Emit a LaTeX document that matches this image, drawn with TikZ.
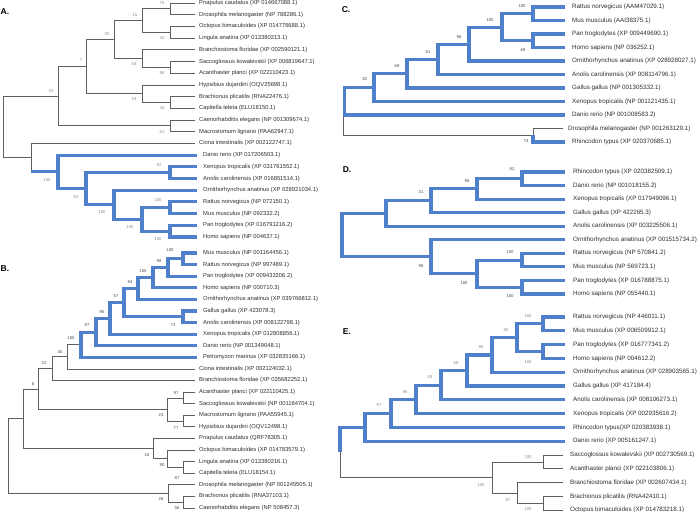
\documentclass[tikz,border=0pt]{standalone}
\usepackage{fontspec}
\setmainfont{Liberation Sans}
\definecolor{blueline}{RGB}{78,128,203}
\definecolor{greyline}{RGB}{95,95,95}
\definecolor{txt}{RGB}{45,45,45}
\definecolor{lblA}{RGB}{135,135,135}
\definecolor{lblD}{RGB}{70,70,70}
\newcommand{\edg}[3]{\draw[#1] (#2) |- (#3);}
\begin{document}
\begin{tikzpicture}[x=1pt,y=-1pt,
  gl/.style={draw=greyline,line width=0.75pt},
  bl/.style={draw=blueline,line width=3.1pt},
  tA/.style={anchor=west,inner sep=0pt,text=txt,font=\fontsize{5.8}{6}\selectfont},
  tC/.style={anchor=west,inner sep=0pt,text=txt,font=\fontsize{6.25}{7}\selectfont},
  bsA/.style={inner sep=0pt,text=lblA,font=\fontsize{4.2}{5}\selectfont},
  bsD/.style={inner sep=0pt,text=lblD,font=\fontsize{4.2}{5}\selectfont},
  pl/.style={inner sep=0pt,font=\fontsize{8.5}{9}\selectfont\bfseries}]
\useasboundingbox (0,0) rectangle (700,514);

% panel letters
\node[pl] (LA) at (5,12) {A.};
\node[pl] (LB) at (5,269) {B.};
\node[pl] (LC) at (346,10) {C.};
\node[pl] (LD) at (347,170) {D.};
\node[pl] (LE) at (347,332) {E.};

% ================= A =================
\foreach \i/\lx/\tx/\t in {
1/195/199/{Priapulus caudatus (XP 014667088.1)},
2/195/199/{Drosophila melanogaster (NP 788286.1)},
3/195/199/{Octopus bimaculoides (XP 014776688.1)},
4/195/199/{Lingula anatina (XP 013380213.1)},
5/195/199/{Branchiostoma floridae (XP 002590121.1)},
6/195/199/{Saccoglossus kowalevskii (XP 006819647.1)},
7/195/199/{Acanthaster planci (XP 022110423.1)},
8/195/199/{Hypsibius dujardini (OQV25698.1)},
9/195/199/{Brachionus plicatilis (RNA22476.1)},
10/195/199/{Capitella teleta (ELU18150.1)},
11/195/199/{Caenorhabditis elegans (NP 001309674.1)},
12/195/199/{Macrostomum lignano (PAA62947.1)},
13/195/199/{Ciona intestinalis (XP 002122747.1)},
14/197/203/{Danio rerio (XP 017206503.1)},
15/197/203/{Xenopus tropicalis (XP 031761552.1)},
16/197/203/{Anolis carolinensis (XP 016851514.1)},
17/197/203/{Ornithorhynchus anatinus (XP 028921034.1)},
18/197/203/{Rattus norvegicus (NP 072150.1)},
19/197/203/{Mus musculus (NP 092332.2)},
20/197/203/{Pan troglodytes (XP 016791216.2)},
21/197/203/{Homo sapiens (NP 004637.1)}}{
  \pgfmathsetmacro\yy{3+11.7*(\i-1)}
  \coordinate (A\i) at (\lx,\yy);
  \node[tA] (tA\i) at (\tx,\yy) {\t};
}
\coordinate (na75) at (170,8.85);
\coordinate (na43) at (170,32.25);
\coordinate (na15) at (142,20.55);
\coordinate (na88) at (170,67.35);
\coordinate (na84) at (142,58.58);
\coordinate (na20) at (114,39.56);
\coordinate (na44) at (170,102.45);
\coordinate (na19) at (142,93.68);
\coordinate (na7) at (86,66.62);
\coordinate (na81) at (170,125.85);
\coordinate (na33) at (58,96.23);
\coordinate (na92) at (170,172.65);
\coordinate (naRM) at (170,207.75);
\coordinate (naPH) at (170,231.15);
\coordinate (na105) at (142,219.45);
\coordinate (na100) at (114,204.83);
\coordinate (na62) at (86,188.74);
\coordinate (naV) at (58,171.92);
\coordinate (naLow) at (31,157.66);
\coordinate (naRoot) at (3,126.94);

\edg{gl}{naRoot}{na33} \edg{gl}{naRoot}{naLow}
\edg{gl}{na33}{na7} \edg{gl}{na33}{na81}
\edg{gl}{na7}{na20} \edg{gl}{na7}{na19}
\edg{gl}{na20}{na15} \edg{gl}{na20}{na84}
\edg{gl}{na15}{na75} \edg{gl}{na15}{na43}
\edg{gl}{na75}{A1} \edg{gl}{na75}{A2}
\edg{gl}{na43}{A3} \edg{gl}{na43}{A4}
\edg{gl}{na84}{A5} \edg{gl}{na84}{na88}
\edg{gl}{na88}{A6} \edg{gl}{na88}{A7}
\edg{gl}{na19}{A8} \edg{gl}{na19}{na44}
\edg{gl}{na44}{A9} \edg{gl}{na44}{A10}
\edg{gl}{na81}{A11} \edg{gl}{na81}{A12}
\edg{gl}{naLow}{A13}
\draw[gl] (naLow) -- (naLow |- naV);
\draw[bl] (naLow |- naV) -- (naV);
\edg{bl}{naV}{A14} \edg{bl}{naV}{na62}
\edg{bl}{na62}{na92} \edg{bl}{na62}{na100}
\edg{bl}{na92}{A15} \edg{bl}{na92}{A16}
\edg{bl}{na100}{A17} \edg{bl}{na100}{na105}
\edg{bl}{na105}{naRM} \edg{bl}{na105}{naPH}
\edg{bl}{naRM}{A18} \edg{bl}{naRM}{A19}
\edg{bl}{naPH}{A20} \edg{bl}{naPH}{A21}

\node[bsA] (sa75) at (162,3) {75};
\node[bsA] (sa15) at (135,15) {15};
\node[bsA] (sa43) at (162,38) {43};
\node[bsA] (sa20) at (107,34) {20};
\node[bsA] (sa84) at (134,64) {84};
\node[bsA] (sa88) at (162,73) {88};
\node[bsA] (sa7) at (81,60) {7};
\node[bsA] (sa19) at (134,99) {19};
\node[bsA] (sa44) at (162,108) {44};
\node[bsA] (sa33) at (51,91) {33};
\node[bsA] (sa81) at (162,132) {81};
\node[bsA] (saV) at (47,180) {100};
\node[bsA] (sa92) at (159,165) {92};
\node[bsA] (sa62) at (76,197) {62};
\node[bsA] (sa100) at (102,212) {100};
\node[bsA] (saRM) at (158,200) {100};
\node[bsA] (sa105) at (130,227) {100};
\node[bsA] (saPH) at (158,239) {100};

% ================= B =================
\foreach \i/\lx/\tx/\t in {
1/197/203/{Mus musculus (NP 001164456.1)},
2/197/203/{Rattus norvegicus (NP 997489.1)},
3/197/203/{Pan troglodytes (XP 009433206.2)},
4/197/203/{Homo sapiens (NP 000710.3)},
5/197/203/{Ornithorhynchus anatinus (XP 039766812.1)},
6/197/203/{Gallus gallus (XP 423078.3)},
7/197/203/{Anolis carolinensis (XP 008122798.1)},
8/197/203/{Xenopus tropicalis (XP 012808856.1)},
9/197/203/{Danio rerio (NP 001349048.1)},
10/197/203/{Petromyzon marinus (XP 032835166.1)},
11/195/199/{Ciona intestinalis (XP 002124032.1)},
12/195/199/{Branchiostoma floridae (XP 035682252.1)},
13/195/199/{Acanthaster planci (XP 022110425.1)},
14/195/199/{Saccoglossus kowalevskii (NP 001164704.1)},
15/195/199/{Macrostomum lignano (PAA55945.1)},
16/195/199/{Hypsibius dujardini (OQV12498.1)},
17/195/199/{Priapulus caudatus (QRF78305.1)},
18/195/199/{Octopus bimaculoides (XP 014783579.1)},
19/195/199/{Lingula anatina (XP 013380216.1)},
20/195/199/{Capitella teleta (ELU18154.1)},
21/195/199/{Drosophila melanogaster (NP 001245505.1)},
22/195/199/{Brachionus plicatilis (RNA37103.1)},
23/195/199/{Caenorhabditis elegans (NP 508457.3)}}{
  \pgfmathsetmacro\yy{253+11.59*(\i-1)}
  \coordinate (B\i) at (\lx,\yy);
  \node[tA] (tB\i) at (\tx,\yy) {\t};
}
\coordinate (nbMR) at (183,258.8);
\coordinate (nb98) at (168,267.49);
\coordinate (nb100) at (153,277.63);
\coordinate (nb94) at (138,288.5);
\coordinate (nb73) at (183,316.75);
\coordinate (nb57) at (124,302.62);
\coordinate (nb95) at (110,318.38);
\coordinate (nb97) at (96,332.05);
\coordinate (nbV) at (81,344.68);
\coordinate (nb45) at (67,356.79);
\coordinate (nb31) at (52,368.64);
\coordinate (nbAS) at (183,397.88);
\coordinate (nbMH) at (183,421.06);
\coordinate (nb24) at (167,409.47);
\coordinate (nb6) at (38,389.06);
\coordinate (nbLC) at (183,467.42);
\coordinate (nb90) at (167,458.73);
\coordinate (nb16) at (153,448.59);
\coordinate (nbN) at (23,418.83);
\coordinate (nbBC) at (183,502.19);
\coordinate (nb26) at (168,493.5);
\coordinate (nbRoot) at (8,456.2);

\edg{gl}{nbRoot}{nbN} \edg{gl}{nbRoot}{nb26}
\edg{gl}{nbN}{nb6} \edg{gl}{nbN}{nb16}
\edg{gl}{nb6}{nb31} \edg{gl}{nb6}{nb24}
\edg{gl}{nb31}{nb45} \edg{gl}{nb31}{B12}
\edg{gl}{nb45}{nbV} \edg{gl}{nb45}{B11}
\edg{bl}{nbV}{nb97} \edg{bl}{nbV}{B10}
\edg{bl}{nb97}{nb95} \edg{bl}{nb97}{B9}
\edg{bl}{nb95}{nb57} \edg{bl}{nb95}{B8}
\edg{bl}{nb57}{nb94} \edg{bl}{nb57}{nb73}
\edg{bl}{nb94}{nb100} \edg{bl}{nb94}{B5}
\edg{bl}{nb100}{nb98} \edg{bl}{nb100}{B4}
\edg{bl}{nb98}{nbMR} \edg{bl}{nb98}{B3}
\edg{bl}{nbMR}{B1} \edg{bl}{nbMR}{B2}
\edg{bl}{nb73}{B6} \edg{bl}{nb73}{B7}
\edg{gl}{nb24}{nbAS} \edg{gl}{nb24}{nbMH}
\edg{gl}{nbAS}{B13} \edg{gl}{nbAS}{B14}
\edg{gl}{nbMH}{B15} \edg{gl}{nbMH}{B16}
\edg{gl}{nb16}{B17} \edg{gl}{nb16}{nb90}
\edg{gl}{nb90}{B18} \edg{gl}{nb90}{nbLC}
\edg{gl}{nbLC}{B19} \edg{gl}{nbLC}{B20}
\edg{gl}{nb26}{B21} \edg{gl}{nb26}{nbBC}
\edg{gl}{nbBC}{B22} \edg{gl}{nbBC}{B23}

\node[bsD] (sbMR) at (170,250) {100};
\node[bsD] (sb98) at (159,261) {98};
\node[bsD] (sb100) at (143,271) {100};
\node[bsD] (sb94) at (130,282) {94};
\node[bsD] (sb57) at (116,296) {57};
\node[bsD] (sb73) at (173,325) {73};
\node[bsD] (sb95) at (102,312) {95};
\node[bsD] (sb97) at (87,325) {97};
\node[bsD] (sbV) at (71,338) {100};
\node[bsD] (sb45) at (60,352) {45};
\node[bsD] (sb31) at (44,363) {31};
\node[bsD] (sb6) at (33,384) {6};
\node[bsD] (sbAS) at (176,393) {97};
\node[bsD] (sb24) at (161,415) {24};
\node[bsD] (sbMH) at (176,428) {77};
\node[bsD] (sb16) at (147,455) {16};
\node[bsD] (sb90) at (162,465) {90};
\node[bsD] (sbLC) at (177,478) {87};
\node[bsD] (sb26) at (161,499) {26};
\node[bsD] (sbBC) at (177,508) {56};

% ================= C =================
\foreach \i/\lx/\tx/\t in {
1/565/572/{Rattus norvegicus (AAM47029.1)},
2/565/572/{Mus musculus (AAI38375.1)},
3/565/572/{Pan troglodytes (XP 009449690.1)},
4/565/572/{Homo sapiens (NP 036252.1)},
5/565/572/{Ornithorhynchus anatinus (XP 028928027.1)},
6/565/572/{Anolis carolinensis (XP 008114796.1)},
7/565/572/{Gallus gallus (NP 001305332.1)},
8/565/572/{Xenopus tropicalis (NP 001121435.1)},
9/565/572/{Danio rerio (NP 001008583.2)},
10/563/568/{Drosophila melanogaster (NP 001263129.1)},
11/565/572/{Rhincodon typus (XP 020370685.1)}}{
  \pgfmathsetmacro\yy{7+13.5*(\i-1)}
  \coordinate (C\i) at (\lx,\yy);
  \node[tC] (tC\i) at (\tx,\yy) {\t};
}
\coordinate (ncRM) at (533,13.75);
\coordinate (ncPH) at (533,40.75);
\coordinate (nc100) at (502,27.25);
\coordinate (nc96) at (469,44.13);
\coordinate (nc81) at (438,59.31);
\coordinate (nc69) at (407,73.66);
\coordinate (nc82) at (374,87.58);
\coordinate (ncX) at (344.5,101.29);
\coordinate (nc74) at (533,135.25);
\coordinate (ncRoot) at (343,118.27);

\edg{gl}{ncRoot}{ncX} \edg{gl}{ncRoot}{nc74}
\edg{bl}{ncX}{nc82} \edg{bl}{ncX}{C9}
\edg{bl}{nc82}{nc69} \edg{bl}{nc82}{C8}
\edg{bl}{nc69}{nc81} \edg{bl}{nc69}{C7}
\edg{bl}{nc81}{nc96} \edg{bl}{nc81}{C6}
\edg{bl}{nc96}{nc100} \edg{bl}{nc96}{C5}
\edg{bl}{nc100}{ncRM} \edg{bl}{nc100}{ncPH}
\edg{bl}{ncRM}{C1} \edg{bl}{ncRM}{C2}
\edg{bl}{ncPH}{C3} \edg{bl}{ncPH}{C4}
\edg{gl}{nc74}{C10} \edg{bl}{nc74}{C11}

\node[bsD] (scRM) at (522,6) {100};
\node[bsD] (scPH) at (523,50) {69};
\node[bsD] (sc100) at (490,20) {100};
\node[bsD] (sc96) at (459,37) {96};
\node[bsD] (sc81) at (428,52) {81};
\node[bsD] (sc69) at (397,66) {69};
\node[bsD] (sc82) at (365,79) {82};
\node[bsD] (sc74) at (526,141) {74};

% ================= D =================
\foreach \i/\t in {
1/{Rhincodon typus (XP 020382509.1)},
2/{Danio rerio (NP 001018155.2)},
3/{Xenopus tropicalis (XP 017949096.1)},
4/{Gallus gallus (XP 422265.3)},
5/{Anolis carolinensis (XP 003225506.1)},
6/{Ornithorhynchus anatinus (XP 001515734.2)},
7/{Rattus norvegicus (NP 570841.2)},
8/{Mus musculus (NP 569723.1)},
9/{Pan troglodytes (XP 016788875.1)},
10/{Homo sapiens (NP 055440.1)}}{
  \pgfmathsetmacro\yy{172+13.55*(\i-1)}
  \coordinate (D\i) at (565,\yy);
  \node[tC] (tD\i) at (573,\yy) {\t};
}
\coordinate (ndRD) at (522,178.78);
\coordinate (nd98) at (477,188.94);
\coordinate (nd31) at (431,200.79);
\coordinate (ndA) at (386,213.5);
\coordinate (ndRM) at (522,260.08);
\coordinate (ndPH) at (522,287.18);
\coordinate (nd100) at (477,273.63);
\coordinate (nd98b) at (431,256.69);
\coordinate (ndRoot) at (342,235.1);

\edg{bl}{ndRoot}{ndA} \edg{bl}{ndRoot}{nd98b}
\edg{bl}{ndA}{nd31} \edg{bl}{ndA}{D5}
\edg{bl}{nd31}{nd98} \edg{bl}{nd31}{D4}
\edg{bl}{nd98}{ndRD} \edg{bl}{nd98}{D3}
\edg{bl}{ndRD}{D1} \edg{bl}{ndRD}{D2}
\edg{bl}{nd98b}{D6} \edg{bl}{nd98b}{nd100}
\edg{bl}{nd100}{ndRM} \edg{bl}{nd100}{ndPH}
\edg{bl}{ndRM}{D7} \edg{bl}{ndRM}{D8}
\edg{bl}{ndPH}{D9} \edg{bl}{ndPH}{D10}

\node[bsD] (sdRD) at (512,169) {82};
\node[bsD] (sd98) at (467,181) {98};
\node[bsD] (sd31) at (421,192) {31};
\node[bsD] (sdRM) at (510,252) {100};
\node[bsD] (sdPH) at (510,296) {100};
\node[bsD] (sd100) at (464,283) {100};
\node[bsD] (sd98b) at (421,266) {98};

% ================= E =================
\foreach \i/\lx/\tx/\t in {
1/565/573/{Rattus norvegicus (NP 446011.1)},
2/565/573/{Mus musculus (XP 006509912.1)},
3/565/573/{Pan troglodytes (XP 016777341.2)},
4/565/573/{Homo sapiens (NP 004612.2)},
5/565/573/{Ornithorhynchus anatinus (XP 028903565.1)},
6/565/573/{Gallus gallus (XP 417184.4)},
7/565/573/{Anolis carolinensis (XP 008106273.1)},
8/565/573/{Xenopus tropicalis (XP 002935616.2)},
9/565/573/{Rhincodon typus(XP 020383938.1)},
10/565/573/{Danio rerio (XP 005161247.1)},
11/563/570/{Saccoglossus kowalevskii (XP 002730569.1)},
12/563/570/{Acanthaster planci (XP 022103806.1)},
13/563/570/{Branchiostoma floridae (XP 002607434.1)},
14/563/570/{Brachionus plicatilis (RNA42410.1)},
15/563/570/{Octopus bimaculoides (XP 014783218.1)}}{
  \pgfmathsetmacro\yy{317+13.8*(\i-1)}
  \coordinate (E\i) at (\lx,\yy);
  \node[tC] (tE\i) at (\tx,\yy) {\t};
}
\coordinate (neRM) at (543,323.9);
\coordinate (nePH) at (543,351.5);
\coordinate (ne90) at (517,337.7);
\coordinate (ne96) at (492,354.95);
\coordinate (ne68) at (467,370.48);
\coordinate (ne93) at (441,385.14);
\coordinate (ne98) at (416,399.37);
\coordinate (ne97) at (391,413.39);
\coordinate (neV) at (365,427.29);
\coordinate (neSA) at (543,461.9);
\coordinate (neBO) at (543,503.3);
\coordinate (ne97b) at (517,492.95);
\coordinate (ne100) at (492,477.43);
\coordinate (neRoot) at (340,452.36);

\edg{bl}{neRoot}{neV} \edg{gl}{neRoot}{ne100}
\edg{bl}{neV}{ne97} \edg{bl}{neV}{E10}
\edg{bl}{ne97}{ne98} \edg{bl}{ne97}{E9}
\edg{bl}{ne98}{ne93} \edg{bl}{ne98}{E8}
\edg{bl}{ne93}{ne68} \edg{bl}{ne93}{E7}
\edg{bl}{ne68}{ne96} \edg{bl}{ne68}{E6}
\edg{bl}{ne96}{ne90} \edg{bl}{ne96}{E5}
\edg{bl}{ne90}{neRM} \edg{bl}{ne90}{nePH}
\edg{bl}{neRM}{E1} \edg{bl}{neRM}{E2}
\edg{bl}{nePH}{E3} \edg{bl}{nePH}{E4}
\edg{gl}{ne100}{neSA} \edg{gl}{ne100}{ne97b}
\edg{gl}{neSA}{E11} \edg{gl}{neSA}{E12}
\edg{gl}{ne97b}{E13} \edg{gl}{ne97b}{neBO}
\edg{gl}{neBO}{E14} \edg{gl}{neBO}{E15}

\node[bsA] (seRM) at (528,316) {100};
\node[bsA] (sePH) at (528,362) {100};
\node[bsA] (se90) at (506,330) {90};
\node[bsA] (se96) at (481,347) {96};
\node[bsA] (se68) at (456,363) {68};
\node[bsA] (se93) at (430,377) {93};
\node[bsA] (se98) at (405,392) {98};
\node[bsA] (se97) at (379,405) {97};
\node[bsA] (seSA) at (528,457) {100};
\node[bsA] (seBO) at (528,509) {100};
\node[bsA] (se97b) at (508,500) {97};
\node[bsA] (se100) at (481,485) {100};
\end{tikzpicture}
\end{document}
